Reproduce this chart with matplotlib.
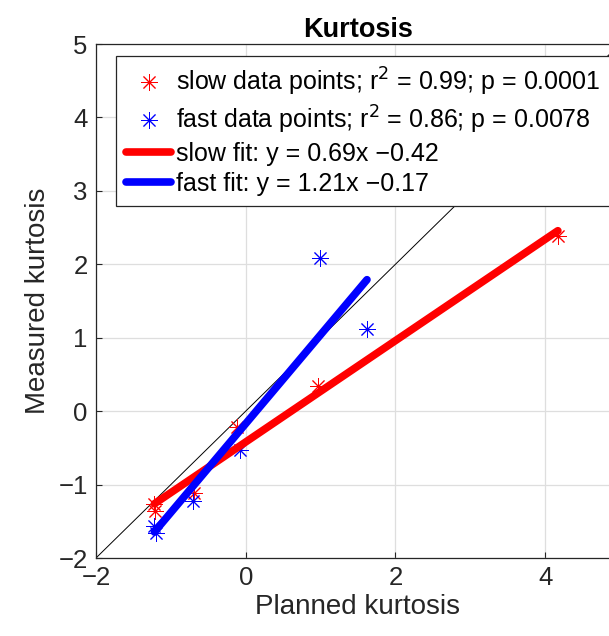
import numpy as np
import matplotlib.pyplot as plt

plt.rcParams['font.family'] = ['Liberation Sans', 'DejaVu Sans']

# planned vs measured kurtosis
slow_x = [4.17, 0.97, -0.12, -0.69, -1.22, -1.21]
slow_y = [2.39, 0.34, -0.21, -1.12, -1.27, -1.36]
fast_x = [0.99, 1.62, -0.07, -0.70, -1.22, -1.20]
fast_y = [2.09, 1.12, -0.53, -1.22, -1.56, -1.66]

slow_fit = (0.69, -0.42)
fast_fit = (1.21, -0.17)

slow_lbl = 'slow data points; r$^2$ = 0.99; p = 0.0001'
fast_lbl = 'fast data points; r$^2$ = 0.86; p = 0.0078'
slow_fit_lbl = 'slow fit: y = 0.69x \u22120.42'
fast_fit_lbl = 'fast fit: y = 1.21x \u22120.17'

W, H = 609, 636
fig = plt.figure(figsize=(W / 100, H / 100), dpi=100)
ax = fig.add_axes([96 / W, 1 - 558 / H, 524 / W, 514 / H])

ink = '#262626'
ast = (8, 2, 0)

ax.plot([-2, 5], [-2, 5], color='k', lw=0.7, zorder=2)
ax.plot(slow_x, slow_y, ls='none', marker=ast, ms=12, mew=0.7, color='r', label=slow_lbl, zorder=3)
ax.plot(fast_x, fast_y, ls='none', marker=ast, ms=12, mew=0.7, color='b', label=fast_lbl, zorder=3)

xs = np.array([min(slow_x), max(slow_x)])
ax.plot(xs, slow_fit[0] * xs + slow_fit[1], color='r', lw=5.5, solid_capstyle='round',
        label=slow_fit_lbl, zorder=4)
xf = np.array([min(fast_x), max(fast_x)])
ax.plot(xf, fast_fit[0] * xf + fast_fit[1], color='b', lw=5.5, solid_capstyle='round',
        label=fast_fit_lbl, zorder=4)

ax.set_xlim(-2, 5)
ax.set_ylim(-2, 5)
ax.set_xticks([-2, 0, 2, 4])
ax.set_yticks(range(-2, 6))
ax.grid(True, color='#dedede', lw=0.9)
ax.set_axisbelow(True)
ax.tick_params(direction='in', length=4, width=0.8, colors=ink, labelsize=18.5, pad=6)
for s in ax.spines.values():
    s.set_color(ink)
    s.set_linewidth(0.9)

ax.set_title('Kurtosis', fontsize=19.5, fontweight='bold', pad=5)
ax.set_xlabel('Planned kurtosis', fontsize=20, color=ink, labelpad=3)
ax.set_ylabel('Measured kurtosis', fontsize=20, color=ink, labelpad=5)

leg = ax.legend(loc='upper left', bbox_to_anchor=(116 / W, 1 - 56 / H),
                bbox_transform=fig.transFigure, fontsize=18, frameon=True,
                fancybox=False, edgecolor=ink, framealpha=1, handlelength=1.8,
                handletextpad=0.2, borderpad=0.4, labelspacing=0.23, borderaxespad=0)
leg.get_frame().set_linewidth(0.9)
leg.set_zorder(5)

fig.savefig('out.png', dpi=100)
